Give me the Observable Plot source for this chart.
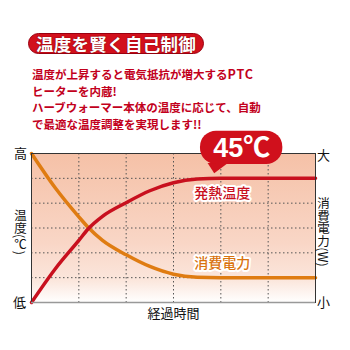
<!DOCTYPE html>
<html><head><meta charset="utf-8">
<script src="https://cdn.jsdelivr.net/npm/d3@7"></script>
<script src="https://cdn.jsdelivr.net/npm/@observablehq/plot@0.6"></script>
<style>
html,body{margin:0;padding:0;background:#fff;}
#wrap{position:relative;width:350px;height:350px;overflow:hidden;font-family:"Noto Sans CJK JP",sans-serif;}
#title{position:absolute;left:28px;top:33px;width:174px;height:19px;border-radius:11px;background:#d2101c;border:1px solid #9a0010;color:#fff;font-weight:bold;font-size:17.5px;line-height:19px;text-align:center;letter-spacing:0.3px;text-shadow:0 0 1px #7a0008,0 0 1px #7a0008;}
#sub{position:absolute;left:32px;top:66px;color:#c2001c;font-weight:bold;font-size:11.5px;line-height:16.7px;white-space:nowrap;}
#sub .lat{font-size:12.5px;letter-spacing:0.8px;}
#chart{position:absolute;left:0;top:130px;}
</style></head><body>
<div id="wrap">
<div id="title"></div>
<div id="sub"></div>
<div id="chart"></div>
</div>
<script>
const titleText = "温度を賢く自己制御";
const subLines = ["温度が上昇すると電気抵抗が増大するPTC", "ヒーターを内蔵!", "ハーブウォーマー本体の温度に応じて、自動", "で最適な温度調整を実現します!!"];
const timeX = [0, 0.5, 1, 1.2, 1.5, 2, 2.5, 3, 3.5, 4, 5, 6];
const tempY = [0, 1.35, 2.5, 2.97, 3.47, 4.02, 4.5, 4.82, 4.97, 5, 5, 5];
const powerY = [6, 4.62, 3.45, 3.02, 2.5, 1.92, 1.45, 1.14, 1.02, 1, 1, 1];
const gridTicks = [1, 2, 3, 4, 5];
const seriesLabels = ["発熱温度", "消費電力"];
const leftLabels = ["高", "温度(℃)", "低"];
const rightLabels = ["大", "消費電力(W)", "小"];
const xLabel = "経過時間";
const bubbleText = "45℃";

document.getElementById("title").textContent = titleText;
document.getElementById("sub").innerHTML = subLines.map(s => s.replace(/([A-Z]+)/g, '<span class="lat">$1</span>')).join("<br>");

const tempData = timeX.map((x, i) => ({x, y: tempY[i]}));
const powerData = timeX.map((x, i) => ({x, y: powerY[i]}));
const RED = "#c8101e", ORANGE = "#df7c12";
const font = "Noto Sans CJK JP";

const plot = Plot.plot({
  width: 350, height: 220,
  marginTop: 23, marginLeft: 31, marginRight: 35, marginBottom: 48,
  x: {domain: [0, 6], axis: null},
  y: {domain: [0, 6], axis: null},
  style: {fontFamily: font, background: "transparent", overflow: "visible"},
  marks: [
    Plot.frame({fill: "url(#bggrad)", stroke: null}),
    Plot.ruleX(gridTicks, {stroke: "#555", strokeWidth: 1, strokeDasharray: "1.5,2.5"}),
    Plot.ruleY(gridTicks, {stroke: "#555", strokeWidth: 1, strokeDasharray: "1.5,2.5"}),
    Plot.line(powerData, {x: "x", y: "y", stroke: ORANGE, strokeWidth: 3.5, curve: "monotone-x"}),
    Plot.line(tempData, {x: "x", y: "y", stroke: RED, strokeWidth: 3.5, curve: "monotone-x"}),
    Plot.frame({stroke: "#333", strokeWidth: 1}),
    Plot.ruleY([0], {stroke: "#999", strokeWidth: 1.5}),
    Plot.text([seriesLabels[0]], {x: 4.03, y: 4.4, text: d => d, fill: RED, fontSize: 14, stroke: "white", strokeWidth: 4, fontWeight: 500}),
    Plot.text([seriesLabels[1]], {x: 4.03, y: 1.56, text: d => d, fill: "#d9730e", fontSize: 14, stroke: "white", strokeWidth: 4, fontWeight: 500}),
    // left labels
    Plot.text([leftLabels[0]], {x: 0, y: 6, dx: -11, text: d => d, fontSize: 13, fill: "#111"}),
    Plot.text([leftLabels[1]], {x: 0, y: 3, dx: -11, text: d => d, fontSize: 12.5, fill: "#111"}),
    Plot.text([leftLabels[2]], {x: 0, y: 0, dx: -12, text: d => d, fontSize: 13, fill: "#111"}),
    // right labels
    Plot.text([rightLabels[0]], {x: 6, y: 6, dx: 8, dy: 2, text: d => d, fontSize: 13, fill: "#111"}),
    Plot.text([rightLabels[1]], {x: 6, y: 3, dx: 8, text: d => d, fontSize: 12.5, fill: "#111"}),
    Plot.text([rightLabels[2]], {x: 6, y: 0, dx: 8, text: d => d, fontSize: 13, fill: "#111"}),
    Plot.text([xLabel], {x: 3, y: 0, dy: 11, text: d => d, fontSize: 13, fill: "#111"}),
    // bubble
    Plot.line([{x: 3.72, y: 5.62}, {x: 3.86, y: 5.2}, {x: 4.15, y: 5.62}], {x: "x", y: "y", fill: "#d0101c", stroke: null}),
    Plot.rect([0], {x1: 3.57, x2: 5.31, y1: 5.56, y2: 6.9, rx: 16, fill: "#d0101c"}),
    Plot.text([bubbleText], {x: 4.44, y: 6.2, text: d => d, fill: "white", fontSize: 27, fontWeight: "bold", fontFamily: "Liberation Sans, Noto Sans CJK JP, sans-serif"})
  ]
});
const ns = "http://www.w3.org/2000/svg";
const defs = document.createElementNS(ns, "defs");
defs.innerHTML = '<linearGradient id="bggrad" x1="0" y1="0" x2="0" y2="1"><stop offset="0" stop-color="#f5c1a7"/><stop offset="0.6" stop-color="#f9d6c6"/><stop offset="0.85" stop-color="#fbe6dc"/><stop offset="1" stop-color="#ffffff"/></linearGradient>';
plot.insertBefore(defs, plot.firstChild);
plot.querySelectorAll("text").forEach(t => {
  if (t.textContent === leftLabels[1] || t.textContent === rightLabels[1]) {
    t.style.writingMode = "vertical-rl";
    t.style.textOrientation = "mixed";
    t.setAttribute("dy", "0");
    if (t.parentNode && t.parentNode.getAttribute("dy")) t.parentNode.setAttribute("dy", "0");
  }
});
document.getElementById("chart").appendChild(plot);
</script>
</body></html>
